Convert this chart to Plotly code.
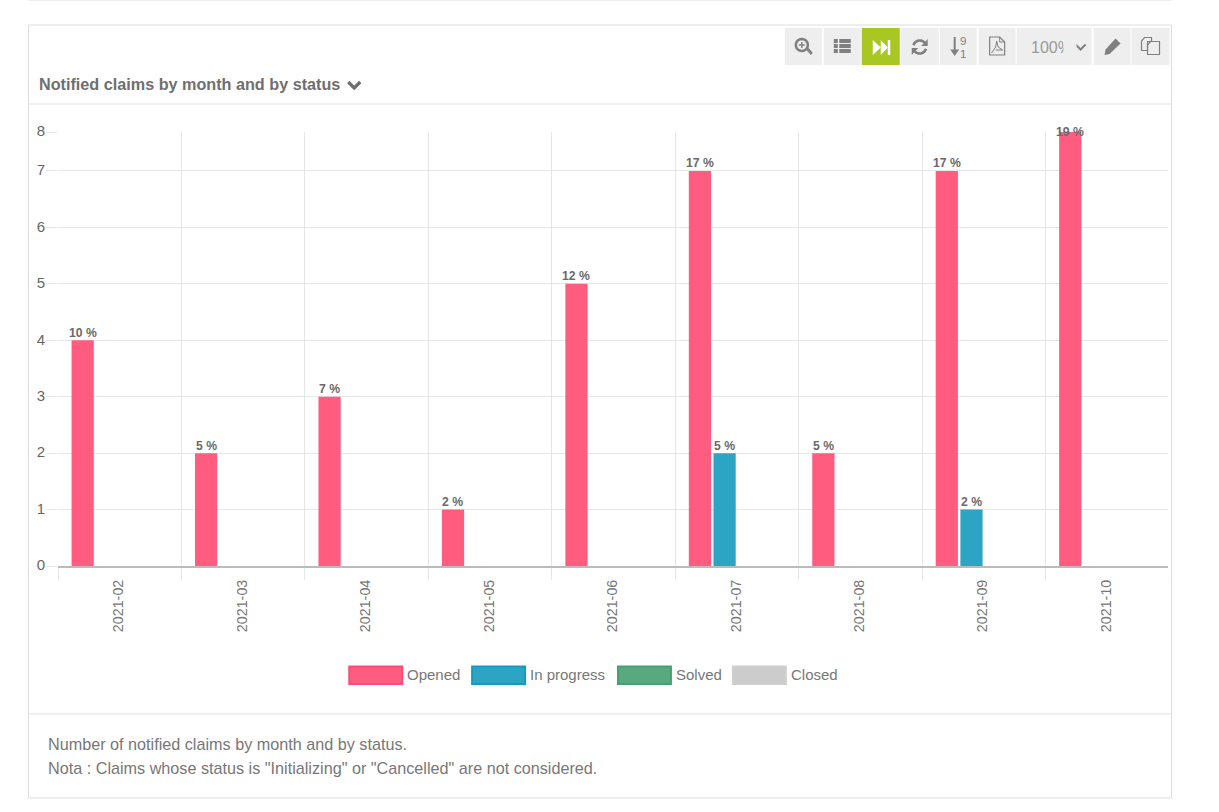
#!/usr/bin/env python3
import math
import plotly.graph_objects as go

months = ["2021-02", "2021-03", "2021-04", "2021-05", "2021-06",
          "2021-07", "2021-08", "2021-09", "2021-10"]
opened = [4, 2, 3, 1, 5, 7, 2, 7, 8]
in_progress = [0, 0, 0, 0, 0, 2, 0, 1, 0]
solved = [0, 0, 0, 0, 0, 0, 0, 0, 0]
closed = [0, 0, 0, 0, 0, 0, 0, 0, 0]
opened_pct = ["10 %", "5 %", "7 %", "2 %", "12 %", "17 %", "5 %", "17 %", "19 %"]
in_progress_pct = ["", "", "", "", "", "5 %", "", "2 %", ""]
status_names = ["Opened", "In progress", "Solved", "Closed"]
status_fill = ["#FF5C80", "#2CA5C4", "#59A97F", "#CCCCCC"]
status_line = ["#FF4D75", "#179AC0", "#45A074", "#CFCFCF"]

FONT = "Liberation Sans, Arial, sans-serif"
W, H = 1219, 812
# plot area in page pixels
L, R, T, B = 57.5, 1169.5, 132, 566
# the top tick reads 8 but sits below the true 8 position, bars get clipped there
Y_TOP = 7.69


def px(x):
    return (x - L) / (R - L)


def py(y):
    return (B - y) / (B - T)


def poly(points, close=True):
    s = "M" + " L".join(f"{px(x):.5f},{py(y):.5f}" for x, y in points)
    return s + (" Z" if close else "")


shapes = []
annotations = []


def rect(x0, y0, x1, y1, fill, line=None, width=1):
    shapes.append(dict(type="rect", xref="paper", yref="paper",
                       x0=px(x0), x1=px(x1), y0=py(y0), y1=py(y1),
                       fillcolor=fill, line=dict(color=line or fill, width=width if line else 0)))


def hline(x0, x1, y, color, width=1):
    shapes.append(dict(type="line", xref="paper", yref="paper", x0=px(x0), x1=px(x1),
                       y0=py(y), y1=py(y), line=dict(color=color, width=width)))


def vline(x, y0, y1, color, width=1):
    shapes.append(dict(type="line", xref="paper", yref="paper", x0=px(x), x1=px(x),
                       y0=py(y0), y1=py(y1), line=dict(color=color, width=width)))


def path(points, fill=None, line=None, width=1.5, close=True):
    shapes.append(dict(type="path", xref="paper", yref="paper", path=poly(points, close),
                       fillcolor=fill or "rgba(0,0,0,0)",
                       line=dict(color=line or "rgba(0,0,0,0)", width=width if line else 0)))


def label(x, y, text, size, color="#777777", bold=False, anchor="left", **kw):
    if bold:
        text = f"<b>{text}</b>"
    if anchor == "left":
        x -= 3  # annotation box padding
    annotations.append(dict(xref="paper", yref="paper", x=px(x), y=py(y), text=text,
                            showarrow=False, xanchor=anchor, yanchor="middle",
                            font=dict(family=FONT, size=size, color=color), **kw))


def arc(cx, cy, r, a0, a1, n=14):
    return [(cx + r * math.cos(math.radians(a0 + (a1 - a0) * i / n)),
             cy - r * math.sin(math.radians(a0 + (a1 - a0) * i / n))) for i in range(n + 1)]


# card frame and dividers
hline(28, 1172, 0.5, "#EEEEEE")
rect(28, 25, 1172, 798, "rgba(0,0,0,0)", "#DDDDDD")
hline(28, 1172, 104, "#E2E2E2")
hline(28, 1172, 714, "#E2E2E2")

# toolbar buttons
ICON = "#808080"
buttons = [(785, 822), (824, 861), (862, 900), (901, 939), (940, 977),
           (979, 1016), (1017, 1092), (1094, 1131), (1132, 1170)]
for i, (x0, x1) in enumerate(buttons):
    rect(x0, 28, x1, 65, "#A8C821" if i == 2 else "#EEEEEE")

# zoom
path(arc(802, 45, 6, 0, 360, 24), line=ICON, width=2.5)
path([(806.5, 50), (809, 48), (813, 53), (811, 55)], fill=ICON)
path([(799, 45), (805, 45)], line=ICON, width=1.5, close=False)
path([(802, 42), (802, 48)], line=ICON, width=1.5, close=False)
# list
for y0, y1 in [(39, 43), (44, 48), (49, 53)]:
    rect(834, y0, 838, y1, ICON)
    rect(839.5, y0, 851, y1, ICON)
# skip forward
path([(873, 40), (881, 47.5), (873, 55)], fill="#FFFFFF")
path([(881, 40), (888, 47.5), (881, 55)], fill="#FFFFFF")
rect(888, 40, 890.5, 55, "#FFFFFF")
# refresh
path(arc(920, 47, 6.5, 30, 165), line=ICON, width=2.6, close=False)
path(arc(920, 47, 6.5, 210, 345), line=ICON, width=2.6, close=False)
path([(928, 39), (928, 46), (921.5, 46)], fill=ICON)
path([(912, 55), (912, 48), (918.5, 48)], fill=ICON)
# sort
path([(955, 37), (955, 54)], line=ICON, width=2, close=False)
path([(950.5, 49.5), (959.5, 49.5), (955, 56)], fill=ICON)
label(963.5, 41, "9", 11.5, ICON, anchor="center")
label(963.5, 54, "1", 11.5, ICON, anchor="center")
# pdf
path([(990, 37), (1000, 37), (1005, 42), (1005, 55), (990, 55)], line=ICON, width=1.2)
path([(1000, 37), (1000, 42), (1005, 42)], line=ICON, width=1, close=False)
path([(992, 53), (996, 47), (997, 41), (998.5, 47), (1003, 50), (996, 50)],
     line=ICON, width=1, close=False)
# zoom level select, its text is cut off by the arrow area
label(1032, 47, "100%", 16, "#999999")
annotations.append(dict(xref="paper", yref="paper", x=px(1063), y=py(47), text=" ",
                        showarrow=False, xanchor="left", yanchor="middle", bgcolor="#EEEEEE",
                        width=10, height=30, font=dict(size=10)))
path([(1076, 44.5), (1081, 49.5), (1086, 44.5)], line=ICON, width=2, close=False)
# pencil
path([(1116, 38.5), (1121, 43.5), (1110, 54), (1105, 55), (1106, 49.5)], fill=ICON)
# copy
path([(1145, 37.5), (1152, 37.5), (1152, 41.5), (1148, 41.5), (1148, 50.5), (1142, 50.5), (1142, 41)],
     line=ICON, width=1.2)
path([(1151, 41.5), (1160, 41.5), (1160, 54.5), (1148, 54.5), (1148, 45)], line=ICON, width=1.2)

# title and footer
label(39, 84, "Notified claims by month and by status", 16.2, "#6F6F6F", bold=True)
path([(348, 82), (354, 88), (360, 82)], line="#6F6F6F", width=3.2, close=False)
label(48, 744, "Number of notified claims by month and by status.", 16.2)
label(48, 768, 'Nota : Claims whose status is "Initializing" or "Cancelled" are not considered.', 16.2)

# legend, wide swatches
swatch_x = [(349, 402), (472, 525), (618, 671), (733, 786)]
for name, fill, edge, (x0, x1) in zip(status_names, status_fill, status_line, swatch_x):
    rect(x0, 666.5, x1, 684, fill, edge, 2)
    label(x1 + 6, 674, name, 15)

# value labels above the bars
cat_px = (R - L) / len(months)
slot_px = cat_px * 0.8 / len(status_names)
for s, (vals, pcts) in enumerate([(opened, opened_pct), (in_progress, in_progress_pct)]):
    for i, (v, pct) in enumerate(zip(vals, pcts)):
        if not pct:
            continue
        annotations.append(dict(xref="x", yref="y", x=months[i], y=min(v, Y_TOP), text=f"<b>{pct}</b>",
                                showarrow=False, xanchor="center", yanchor="middle",
                                xshift=(s - 1.5) * slot_px, yshift=0 if v > Y_TOP else 7.5,
                                font=dict(family=FONT, size=12.2, color="#6A6A6A")))

fig = go.Figure()
for name, fill, vals in zip(status_names, status_fill, [opened, in_progress, solved, closed]):
    fig.add_trace(go.Bar(x=months, y=vals, name=name, marker=dict(color=fill, line=dict(width=0))))

# no boundary line at the right edge in the original
vline(R, T + 0.5, B + 13, "#FFFFFF", 2)

fig.update_layout(
    width=W, height=H,
    margin=dict(l=L, r=W - R, t=T, b=H - B, pad=0),
    paper_bgcolor="#FFFFFF", plot_bgcolor="#FFFFFF",
    barmode="group", bargap=0.2, bargroupgap=0.1,
    showlegend=False,
    font=dict(family=FONT, size=14, color="#666666"),
    shapes=shapes, annotations=annotations,
)
fig.update_xaxes(type="category", categoryorder="array", categoryarray=months,
                 tickson="boundaries", ticks="outside", ticklen=12, tickcolor="#E6E6E6",
                 showgrid=True, gridcolor="#E6E6E6", gridwidth=1, tickangle=-90,
                 ticklabelstandoff=6, ticklabelshift=-1,
                 tickfont=dict(family=FONT, size=14.3, color="#777777"),
                 showline=True, linecolor="#BBBBBB", linewidth=2, zeroline=False)
fig.update_yaxes(range=[0, Y_TOP], tickmode="array", tickvals=[0, 1, 2, 3, 4, 5, 6, 7, Y_TOP],
                 ticktext=["0", "1", "2", "3", "4", "5", "6", "7", "8"],
                 ticks="outside", ticklen=11, tickcolor="#E6E6E6",
                 ticklabelstandoff=-2, ticklabelshift=-1,
                 showgrid=True, gridcolor="#E6E6E6", gridwidth=1, zeroline=False,
                 tickfont=dict(family=FONT, size=15, color="#666666"))

fig.write_html("out.html", config={"displayModeBar": False},
               post_script="document.body.style.margin='0';")
